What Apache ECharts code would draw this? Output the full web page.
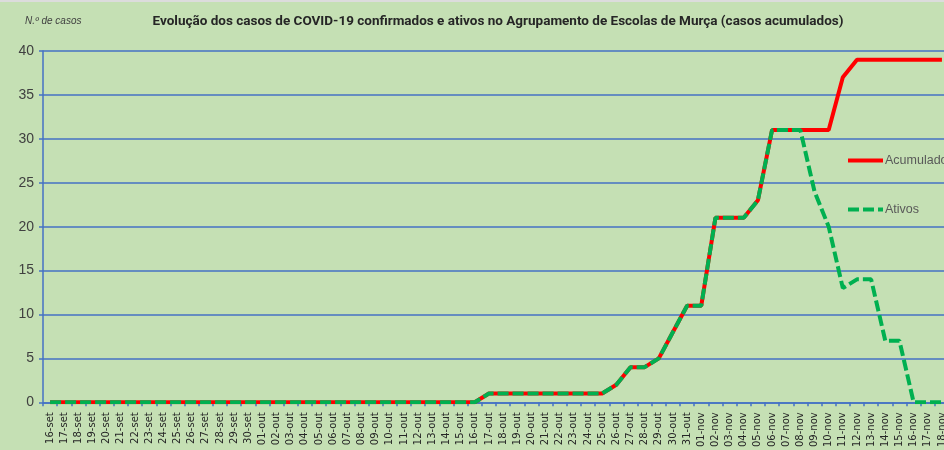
<!DOCTYPE html>
<html>
<head>
<meta charset="utf-8">
<script src="https://cdn.jsdelivr.net/npm/echarts@6/dist/echarts.min.js"></script>
<style>
  html, body { margin: 0; padding: 0; background: #c5e0b4; overflow: hidden; }
  #chart { width: 952px; height: 450px; }
</style>
</head>
<body>
<div id="chart"></div>
<script>
// categorias (dias)
const days = [
  '16-set','17-set','18-set','19-set','20-set','21-set','22-set','23-set','24-set','25-set','26-set','27-set','28-set','29-set','30-set',
  '01-out','02-out','03-out','04-out','05-out','06-out','07-out','08-out','09-out','10-out','11-out','12-out','13-out','14-out','15-out',
  '16-out','17-out','18-out','19-out','20-out','21-out','22-out','23-out','24-out','25-out','26-out','27-out','28-out','29-out','30-out','31-out',
  '01-nov','02-nov','03-nov','04-nov','05-nov','06-nov','07-nov','08-nov','09-nov','10-nov','11-nov','12-nov','13-nov','14-nov','15-nov',
  '16-nov','17-nov','18-nov'
]

// casos acumulados
const acumulados = [
  0,0,0,0,0,0,0,0,0,0,0,0,0,0,0,
  0,0,0,0,0,0,0,0,0,0,0,0,0,0,0,
  0,1,1,1,1,1,1,1,1,1,2,4,4,5,8,11,
  11,21,21,21,23,31,31,31,31,31,37,39,39,39,39,
  39,39,39
]

// casos ativos
const ativos = [
  0,0,0,0,0,0,0,0,0,0,0,0,0,0,0,
  0,0,0,0,0,0,0,0,0,0,0,0,0,0,0,
  0,1,1,1,1,1,1,1,1,1,2,4,4,5,8,11,
  11,21,21,21,23,31,31,31,24,20,13,14,14,7,7,
  0,0,0
]

const yTicks = { min: 0, max: 40, interval: 5 }

const blue = '#4472c4'
const chart = echarts.init(document.getElementById('chart'))

const option = {
  backgroundColor: '#c5e0b4',
  animation: false,
  graphic: [
    {
      type: 'rect',
      left: 0,
      top: 0,
      shape: { width: 952, height: 2 },
      style: { fill: '#dcdcdc' }
    }
  ],
  title: {
    text: 'Evolução dos casos de COVID-19 confirmados e ativos no Agrupamento de Escolas de Murça (casos acumulados)',
    left: 493,
    textAlign: 'center',
    top: 10,
    textStyle: {
      fontFamily: 'Roboto',
      fontSize: 13.5,
      fontWeight: 'bold',
      color: '#262626'
    }
  },
  legend: {
    orient: 'vertical',
    left: 846,
    top: 154,
    padding: 0,
    itemWidth: 35,
    itemHeight: 14,
    itemGap: 36,
    itemStyle: { opacity: 0 },
    lineStyle: { width: 4 },
    textStyle: {
      fontFamily: 'Liberation Sans',
      fontSize: 12.5,
      color: '#595959',
      padding: [0, 0, 0, -3]
    },
    data: ['Acumulados', 'Ativos']
  },
  grid: {
    left: 43,
    right: 3,
    top: 51,
    bottom: 46,
    containLabel: false
  },
  xAxis: {
    type: 'category',
    data: days,
    boundaryGap: true,
    axisLine: { lineStyle: { color: blue, width: 1.5 } },
    axisTick: { show: true, length: 4, lineStyle: { color: blue, width: 1.5 } },
    axisLabel: {
      interval: 0,
      rotate: 90,
      margin: 10,
      fontFamily: 'DejaVu Sans',
      fontSize: 10,
      color: '#262626'
    }
  },
  yAxis: {
    type: 'value',
    min: yTicks.min,
    max: yTicks.max,
    interval: yTicks.interval,
    name: 'N.º de casos',
    nameLocation: 'end',
    nameGap: 25,
    nameTextStyle: {
      fontFamily: 'Liberation Sans',
      fontSize: 10,
      fontStyle: 'italic',
      color: '#404040',
      align: 'left',
      padding: [0, 0, 0, -18]
    },
    axisLine: { show: true, lineStyle: { color: blue, width: 1.5 } },
    axisTick: { show: true, length: 4, lineStyle: { color: blue, width: 1.5 } },
    axisLabel: {
      margin: 9,
      fontFamily: 'Liberation Sans',
      fontSize: 14,
      color: '#404040'
    },
    splitLine: { lineStyle: { color: blue, width: 1.5 } }
  },
  series: [
    {
      name: 'Acumulados',
      type: 'line',
      data: acumulados,
      symbol: 'none',
      color: '#ff0000',
      lineStyle: { color: '#ff0000', width: 4 }
    },
    {
      name: 'Ativos',
      type: 'line',
      data: ativos,
      symbol: 'none',
      color: '#00b050',
      lineStyle: { color: '#00b050', width: 4, type: [11, 4] }
    }
  ]
}

chart.setOption(option)
</script>
</body>
</html>
